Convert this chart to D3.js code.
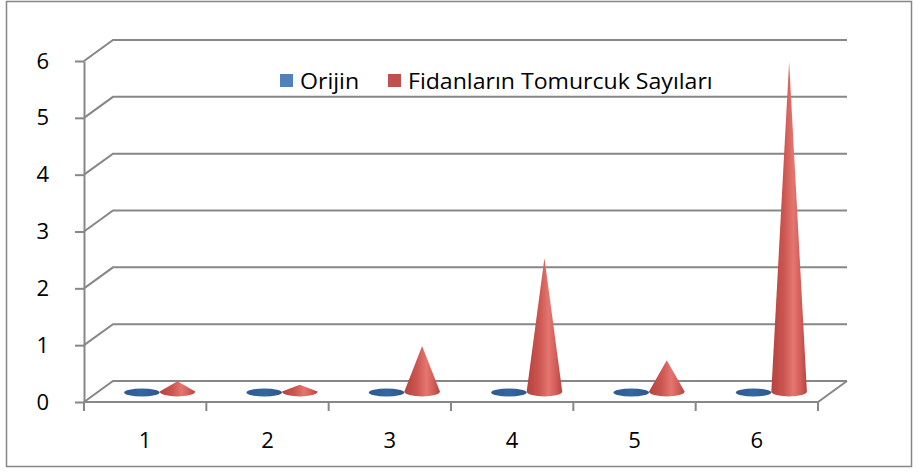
<!DOCTYPE html>
<html>
<head>
<meta charset="utf-8">
<script src="https://cdn.jsdelivr.net/npm/d3@7"></script>
<style>
  body { margin: 0; background: #fff; }
  svg { display: block; }
  text { font-family: "Open Sans", "Noto Sans", sans-serif; fill: #000; }
</style>
</head>
<body>
<svg id="chart" width="918" height="474"></svg>
<script>
// Category labels, series and their values
const categories = ["1", "2", "3", "4", "5", "6"];
const seriesNames = ["Orijin", "Fidanların Tomurcuk Sayıları"];
const orijinValues = [0, 0, 0, 0, 0, 0];
const tomurcukValues = [0.18, 0.12, 0.8, 2.35, 0.55, 5.8];
const yTickValues = [0, 1, 2, 3, 4, 5, 6];

const svg = d3.select("#chart");

// Front plane of the 3D box and the depth offset to the back wall
const x0 = 84, x1 = 818, yBottom = 402, yTop = 61;
const DX = 29, DY = -21;
const gridColor = "#878787";

const x = d3.scaleBand().domain(categories).range([x0, x1]);
const y = d3.scaleLinear().domain([0, 6]).range([yBottom, yTop]);
const inner = d3.scaleBand().domain(seriesNames).range([-x.bandwidth() / 2, x.bandwidth() / 2]).paddingOuter(0.72);

// Gradients for the cones and discs
const defs = svg.append("defs");
const coneGrad = defs.append("linearGradient").attr("id", "coneGrad").attr("x1", 0).attr("x2", 1).attr("y1", 0).attr("y2", 0);
[[0, "#b4433f"], [0.35, "#cc5551"], [0.62, "#e4766f"], [0.82, "#d35d58"], [1, "#b5443f"]]
  .forEach(([o, c]) => coneGrad.append("stop").attr("offset", o).attr("stop-color", c));
const discGrad = defs.append("linearGradient").attr("id", "discGrad").attr("x1", 0).attr("x2", 1).attr("y1", 0).attr("y2", 0);
[[0, "#2c5a90"], [0.5, "#3566a0"], [1, "#2b588d"]]
  .forEach(([o, c]) => discGrad.append("stop").attr("offset", o).attr("stop-color", c));

// Outer frame
svg.append("rect").attr("x", 6.5).attr("y", 1.5).attr("width", 905).attr("height", 465)
  .attr("fill", "#fff").attr("stroke", "#868686").attr("stroke-width", 1.5);

// Side-wall and back-wall gridlines
svg.append("g").selectAll("path").data(yTickValues).join("path")
  .attr("d", t => `M${x0},${y(t)} L${x0 + DX},${y(t) + DY} L${x1 + DX},${y(t) + DY}`)
  .attr("fill", "none").attr("stroke", gridColor).attr("stroke-width", 2);

// Floor edges
svg.append("path")
  .attr("d", `M${x0},${yBottom} L${x1},${yBottom} L${x1 + DX},${yBottom + DY}`)
  .attr("fill", "none").attr("stroke", gridColor).attr("stroke-width", 2);

// Category boundary ticks
const boundaries = categories.map(c => x(c)).concat([x1]);
svg.append("g").selectAll("line").data(boundaries).join("line")
  .attr("x1", d => d).attr("x2", d => d).attr("y1", yBottom).attr("y2", yBottom + 9)
  .attr("stroke", gridColor).attr("stroke-width", 2);

// Value axis on the front-left edge
const yAxis = svg.append("g").attr("transform", `translate(${x0},0)`)
  .call(d3.axisLeft(y).tickValues(yTickValues).tickFormat(d3.format("d")).tickSize(9).tickSizeOuter(0).tickPadding(26));
yAxis.select(".domain").attr("stroke", gridColor).attr("stroke-width", 2);
yAxis.selectAll(".tick line").attr("stroke", gridColor).attr("stroke-width", 2);
yAxis.selectAll(".tick text").style("font-size", "22px").attr("fill", "#000");

// Category axis labels
const xAxis = svg.append("g").attr("transform", `translate(0,${yBottom})`)
  .call(d3.axisBottom(x).tickSize(0).tickPadding(30));
xAxis.select(".domain").remove();
xAxis.selectAll(".tick text").style("font-size", "22px").attr("fill", "#000");

// Cones: Orijin values of zero appear as flat discs
const ry = 5;
const rows = categories.map((c, i) => ({ c, o: orijinValues[i], t: tomurcukValues[i] }));
const marks = svg.append("g");
rows.forEach(r => {
  const mid = x(r.c) + x.bandwidth() / 2 + DX / 2;
  const by = y(0) + DY / 2;
  const rad = inner.bandwidth() / 2;
  [[seriesNames[0], r.o], [seriesNames[1], r.t]].forEach(([s, v]) => {
    const cx = mid + inner(s) + inner.bandwidth() / 2;
    const ty = y(v) + DY / 2;
    if (by - ty < 0.5) {
      marks.append("ellipse").attr("cx", cx).attr("cy", by + 1).attr("rx", rad).attr("ry", ry - 1)
        .attr("fill", "url(#discGrad)");
    } else {
      marks.append("path")
        .attr("d", `M${cx - rad},${by} L${cx},${ty} L${cx + rad},${by} A${rad},${ry} 0 0 1 ${cx - rad},${by} Z`)
        .attr("fill", "url(#coneGrad)");
    }
  });
});

// Legend
const legend = svg.append("g");
const legendItems = [
  { name: seriesNames[0], color: "#4f81bd", box: 280, text: 300 },
  { name: seriesNames[1], color: "#c0504d", box: 388, text: 408 }
];
legendItems.forEach(d => {
  legend.append("rect").attr("x", d.box).attr("y", 74).attr("width", 13).attr("height", 13).attr("fill", d.color);
  legend.append("g").attr("transform", `translate(${d.text},89) scale(1.1,1)`)
    .append("text").style("font-size", "21px").text(d.name);
});
</script>
</body>
</html>
